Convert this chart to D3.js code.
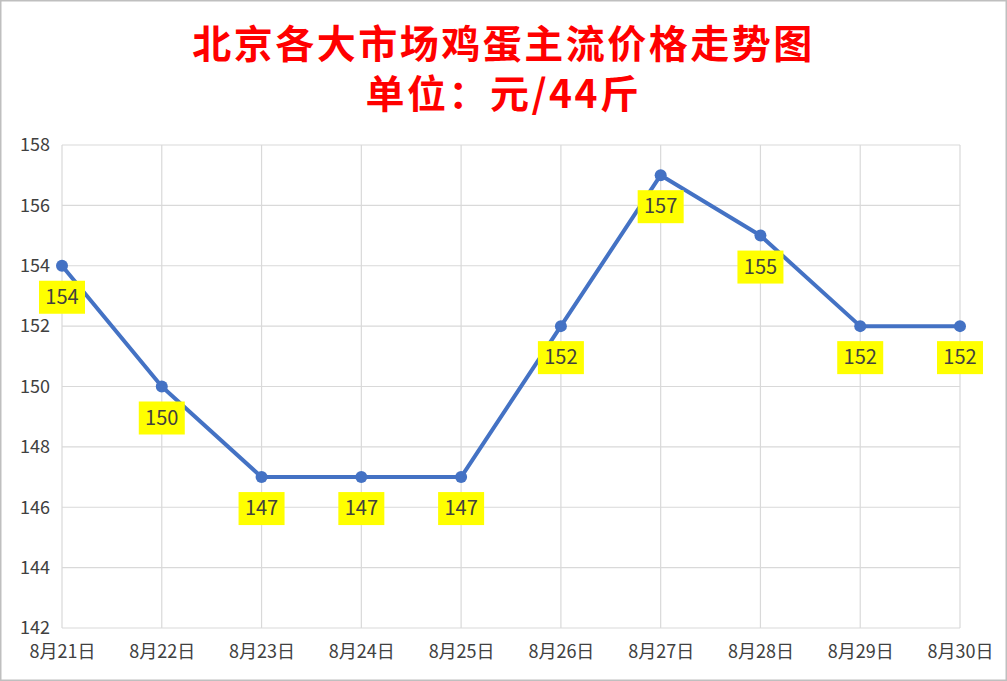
<!DOCTYPE html>
<html>
<head>
<meta charset="utf-8">
<script src="https://cdn.jsdelivr.net/npm/d3@7"></script>
<style>
  body { margin: 0; background: #fff; }
  text { font-family: "Noto Sans CJK SC", "Microsoft YaHei", sans-serif; }
</style>
</head>
<body>
<div id="chart"></div>
<script>
const dates = ["8月21日", "8月22日", "8月23日", "8月24日", "8月25日", "8月26日", "8月27日", "8月28日", "8月29日", "8月30日"];
const prices = [154, 150, 147, 147, 147, 152, 157, 155, 152, 152];
const yTicks = [142, 144, 146, 148, 150, 152, 154, 156, 158];
const titleLines = ["北京各大市场鸡蛋主流价格走势图", "单位：元/44斤"];

const W = 1007, H = 681;
const margin = { top: 145, right: 47, bottom: 53, left: 62 };
const width = W - margin.left - margin.right;
const height = H - margin.top - margin.bottom;

const root = d3.select("#chart").append("svg")
  .attr("width", W)
  .attr("height", H);

// outer border
root.append("rect")
  .attr("x", 0.75).attr("y", 0.75)
  .attr("width", W - 1.5).attr("height", H - 1.5)
  .attr("fill", "#fff")
  .attr("stroke", "#bfbfbf")
  .attr("stroke-width", 1.5);

// title
root.selectAll(".title")
  .data(titleLines)
  .join("text")
  .attr("class", "title")
  .attr("x", W / 2)
  .attr("y", (d, i) => 58 + i * 50)
  .attr("text-anchor", "middle")
  .attr("fill", "#ff0000")
  .style("font-size", "39px")
  .style("font-weight", "bold")
  .style("letter-spacing", "2.5px")
  .text(d => d);

const svg = root.append("g")
  .attr("transform", `translate(${margin.left},${margin.top})`);

const x = d3.scalePoint().domain(dates).range([0, width]);
const y = d3.scaleLinear().domain([142, 158]).range([height, 0]);

// gridlines
svg.append("g")
  .selectAll("line")
  .data(yTicks)
  .join("line")
  .attr("x1", 0).attr("x2", width)
  .attr("y1", d => y(d)).attr("y2", d => y(d))
  .attr("stroke", "#d9d9d9")
  .attr("stroke-width", 1.2);

svg.append("g")
  .selectAll("line")
  .data(dates)
  .join("line")
  .attr("x1", d => x(d)).attr("x2", d => x(d))
  .attr("y1", 0).attr("y2", height)
  .attr("stroke", "#d9d9d9")
  .attr("stroke-width", 1.2);

// axes
const yAxis = svg.append("g")
  .call(d3.axisLeft(y).tickValues(yTicks).tickSize(0).tickPadding(12));
yAxis.select(".domain").remove();
yAxis.selectAll("text")
  .attr("fill", "#404040")
  .style("font-size", "18px");

const xAxis = svg.append("g")
  .attr("transform", `translate(0,${height})`)
  .call(d3.axisBottom(x).tickSize(0).tickPadding(17));
xAxis.select(".domain").remove();
xAxis.selectAll("text")
  .attr("fill", "#404040")
  .style("font-size", "18px");

// line
const line = d3.line()
  .x((d, i) => x(dates[i]))
  .y(d => y(d));

svg.append("path")
  .datum(prices)
  .attr("fill", "none")
  .attr("stroke", "#4472c4")
  .attr("stroke-width", 4)
  .attr("stroke-linejoin", "round")
  .attr("d", line);

svg.selectAll(".dot")
  .data(prices)
  .join("circle")
  .attr("class", "dot")
  .attr("cx", (d, i) => x(dates[i]))
  .attr("cy", d => y(d))
  .attr("r", 6)
  .attr("fill", "#4472c4");

// data labels
const labels = svg.selectAll(".lbl")
  .data(prices)
  .join("g")
  .attr("class", "lbl")
  .attr("transform", (d, i) => `translate(${x(dates[i])},${y(d) + 31})`);

labels.append("rect")
  .attr("x", -23).attr("y", -16)
  .attr("width", 46).attr("height", 33)
  .attr("fill", "#ffff00");

labels.append("text")
  .attr("text-anchor", "middle")
  .attr("dy", "0.35em")
  .attr("fill", "#404040")
  .style("font-size", "20px")
  .text(d => d);
</script>
</body>
</html>
